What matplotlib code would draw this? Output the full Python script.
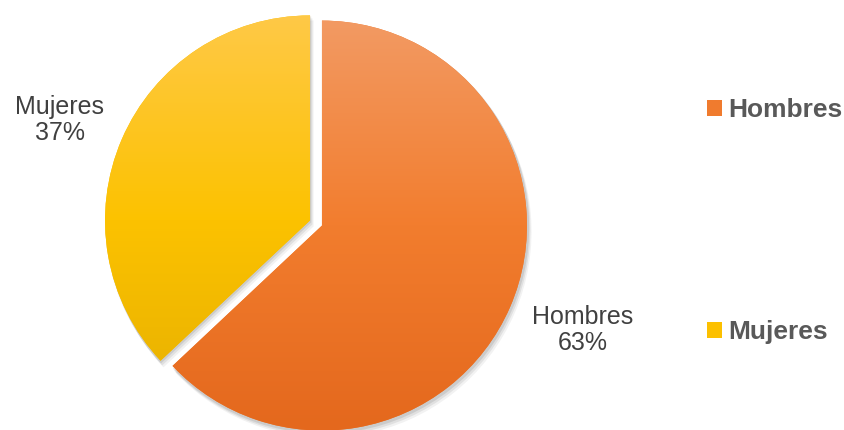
import numpy as np
import matplotlib.pyplot as plt
from matplotlib.colors import LinearSegmentedColormap
from matplotlib.patches import Wedge

# -------------------------------
# Data
# -------------------------------
labels = ["Hombres", "Mujeres"]
values = [63, 37]
explode = [6.5, 6.5]   # pie() takes explode in data units here

# gradient colours (top -> bottom) per slice
grad_colors = [
    ["#F39A63", "#F27D2E", "#E4681D"],   # Hombres
    ["#FFC947", "#FCC200", "#E5AF00"],   # Mujeres
]
solid_colors = ["#F07B2E", "#FCC000"]

# -------------------------------
# Figure
# -------------------------------
plt.rcParams['font.family'] = ['Liberation Sans', 'DejaVu Sans']
fig = plt.figure(figsize=(8.45, 4.30), dpi=100)
ax = fig.add_axes([0, 0, 1, 1])

cx, cy, r = 316, 207, 205

wedges, _ = ax.pie(values, explode=explode, startangle=90, counterclock=False,
                   colors=solid_colors, radius=r, center=(cx, cy), frame=True)

# soft shadow under each slice
for w in wedges:
    for k, a in zip([6, 4, 2], [0.05, 0.07, 0.09]):
        sh = Wedge((w.center[0] + k * 0.6, w.center[1] - k), w.r + 1, w.theta1, w.theta2,
                   facecolor="#000000", alpha=a, edgecolor='none', zorder=0.5)
        ax.add_patch(sh)

# vertical gradient fill clipped to the wedges
for w, cols in zip(wedges, grad_colors):
    w.set_zorder(1)
    cmap = LinearSegmentedColormap.from_list("g", cols)
    grad = np.linspace(0, 1, 256).reshape(-1, 1)
    x0, y0 = w.center
    im = ax.imshow(grad, cmap=cmap, aspect='auto', origin='upper',
                   extent=(x0 - r, x0 + r, y0 - r, y0 + r), zorder=2)
    im.set_clip_path(w)

ax.set_xlim(0, 845)
ax.set_ylim(0, 430)
ax.set_aspect('equal')
ax.axis('off')

# outside labels
ax.text(60, 430 - 120, "Mujeres\n37%", ha='center', va='center', fontsize=18,
        color='#404040', linespacing=1.1)
ax.text(583, 430 - 330, "Hombres\n63%", ha='center', va='center', fontsize=18,
        color='#404040', linespacing=1.1)

# legend
fig.legend(wedges, labels, loc='center left', bbox_to_anchor=(707 / 845, (430 - 221) / 430),
           frameon=False, prop={'weight': 'bold', 'size': 19}, labelcolor='#595959',
           handlelength=0.55, handleheight=0.55, handletextpad=0.25, labelspacing=7.5,
           borderpad=0, borderaxespad=0)

fig.savefig("out.png", dpi=100)
